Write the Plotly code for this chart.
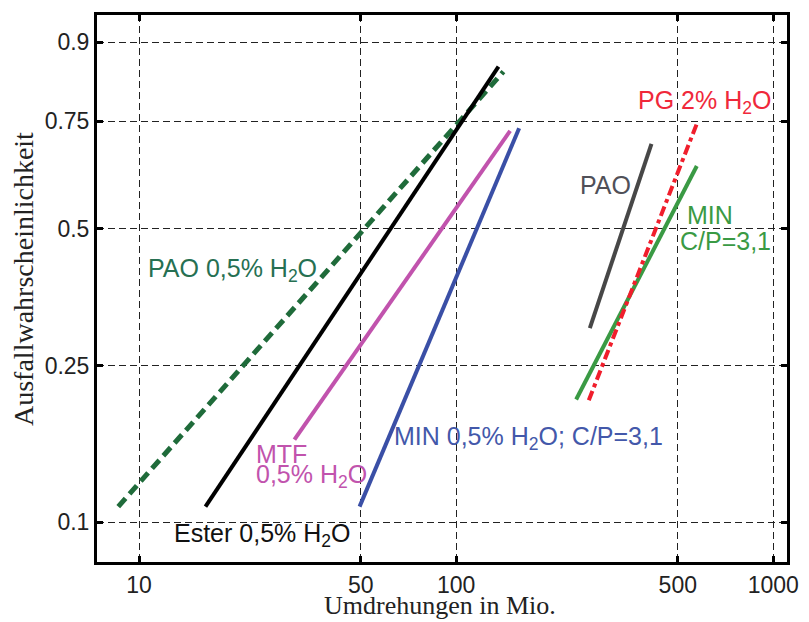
import numpy as np
import plotly.graph_objects as go

# ---- data ----
x_ticks = [10, 50, 100, 500, 1000]
x_ticklabels = ["10", "50", "100", "500", "1000"]
p_ticks = [0.1, 0.25, 0.5, 0.75, 0.9]
p_ticklabels = ["0.1", "0.25", "0.5", "0.75", "0.9"]

pao05_x = [8.6, 141.0]
pao05_p = [0.110, 0.851]
ester_x = [16.2, 136.0]
ester_p = [0.110, 0.860]
mtf_x = [30.9, 148.0]
mtf_p = [0.164, 0.728]
min05_x = [49.6, 158.0]
min05_p = [0.110, 0.734]
pao_x = [264.0, 413.0]
pao_p = [0.307, 0.698]
pg_x = [262.0, 577.0]
pg_p = [0.206, 0.748]
min_x = [239.0, 574.0]
min_p = [0.207, 0.646]


def weib(p):
    p = np.asarray(p, dtype=float)
    return np.log(-np.log(1.0 - p))


W, H = 809, 622
ML, MR, MT, MB = 97, 22, 15, 60
PW, PH = W - ML - MR, H - MT - MB


def px(x):
    return (x - ML) / PW


def py(y):
    return (H - MB - y) / PH


fig = go.Figure()

series = [
    (pao05_x, pao05_p, "#1f6b3a", 5, "11px,6px"),
    (ester_x, ester_p, "#000000", 4, "solid"),
    (mtf_x, mtf_p, "#c153ad", 4, "solid"),
    (min05_x, min05_p, "#3a4fa6", 4, "solid"),
    (pao_x, pao_p, "#474747", 4, "solid"),
    (min_x, min_p, "#3a9a44", 4, "solid"),
    (pg_x, pg_p, "#f01e2c", 4, "10px,4px,4px,4px"),
]
for xs, ps, col, w, dash in series:
    fig.add_trace(go.Scatter(x=xs, y=weib(ps), mode="lines",
                             line=dict(color=col, width=w, dash=dash),
                             showlegend=False, hoverinfo="skip"))

sans = "Liberation Sans, Arial, sans-serif"
serif = "Liberation Serif, Times New Roman, serif"
FS = 25

labels = [
    ("PAO 0,5% H<sub>2</sub>O", 146, 270, "#267052"),
    ("Ester 0,5% H<sub>2</sub>O", 172, 535, "#111111"),
    ("MTF", 254, 454, "#c153ad"),
    ("0,5% H<sub>2</sub>O", 254, 476, "#c153ad"),
    ("MIN 0,5% H<sub>2</sub>O; C/P=3,1", 392, 438, "#4358aa"),
    ("PG 2% H<sub>2</sub>O", 636, 102, "#f0283a"),
    ("PAO", 578, 185, "#505058"),
    ("MIN", 685, 215, "#3a9a44"),
    ("C/P=3,1", 678, 241, "#3a9a44"),
]
for txt, x0, y0, col in labels:
    fig.add_annotation(text=txt, xref="paper", yref="paper", x=px(x0), y=py(y0),
                       xanchor="left", yanchor="middle", showarrow=False,
                       font=dict(family=sans, size=FS, color=col))

# axis titles
fig.add_annotation(text="Umdrehungen in Mio.", xref="paper", yref="paper",
                   x=px(440), y=py(622), xanchor="center", yanchor="bottom",
                   showarrow=False, font=dict(family=serif, size=26, color="#222222"))
fig.add_annotation(text="Ausfallwahrscheinlichkeit", xref="paper", yref="paper",
                   x=px(23), y=py(279), xanchor="center", yanchor="middle",
                   textangle=-90, showarrow=False,
                   font=dict(family=serif, size=28, color="#222222"))

fig.update_xaxes(type="log", range=[np.log10(7.37), np.log10(1105)],
                 tickvals=x_ticks, ticktext=x_ticklabels,
                 showline=True, linewidth=3, linecolor="black", mirror="ticks",
                 ticks="inside", ticklen=6, tickwidth=3, tickcolor="black",
                 showgrid=True, gridcolor="#222222", gridwidth=1, griddash="7px,4px",
                 zeroline=False, tickfont=dict(family=sans, size=23, color="#222222"))
fig.update_yaxes(range=[-2.505, 1.0075],
                 tickvals=list(weib(p_ticks)), ticktext=p_ticklabels,
                 showline=True, linewidth=3, linecolor="black", mirror="ticks",
                 ticks="inside", ticklen=6, tickwidth=3, tickcolor="black",
                 showgrid=True, gridcolor="#222222", gridwidth=1, griddash="7px,4px",
                 zeroline=False, tickfont=dict(family=sans, size=23, color="#222222"))

fig.update_layout(width=W, height=H,
                  margin=dict(l=ML, r=MR, t=MT, b=MB, autoexpand=False),
                  plot_bgcolor="white", paper_bgcolor="white")

fig.write_html("out.html", config={"displayModeBar": False},
               post_script="document.body.style.margin='0';document.body.style.overflow='hidden';")
